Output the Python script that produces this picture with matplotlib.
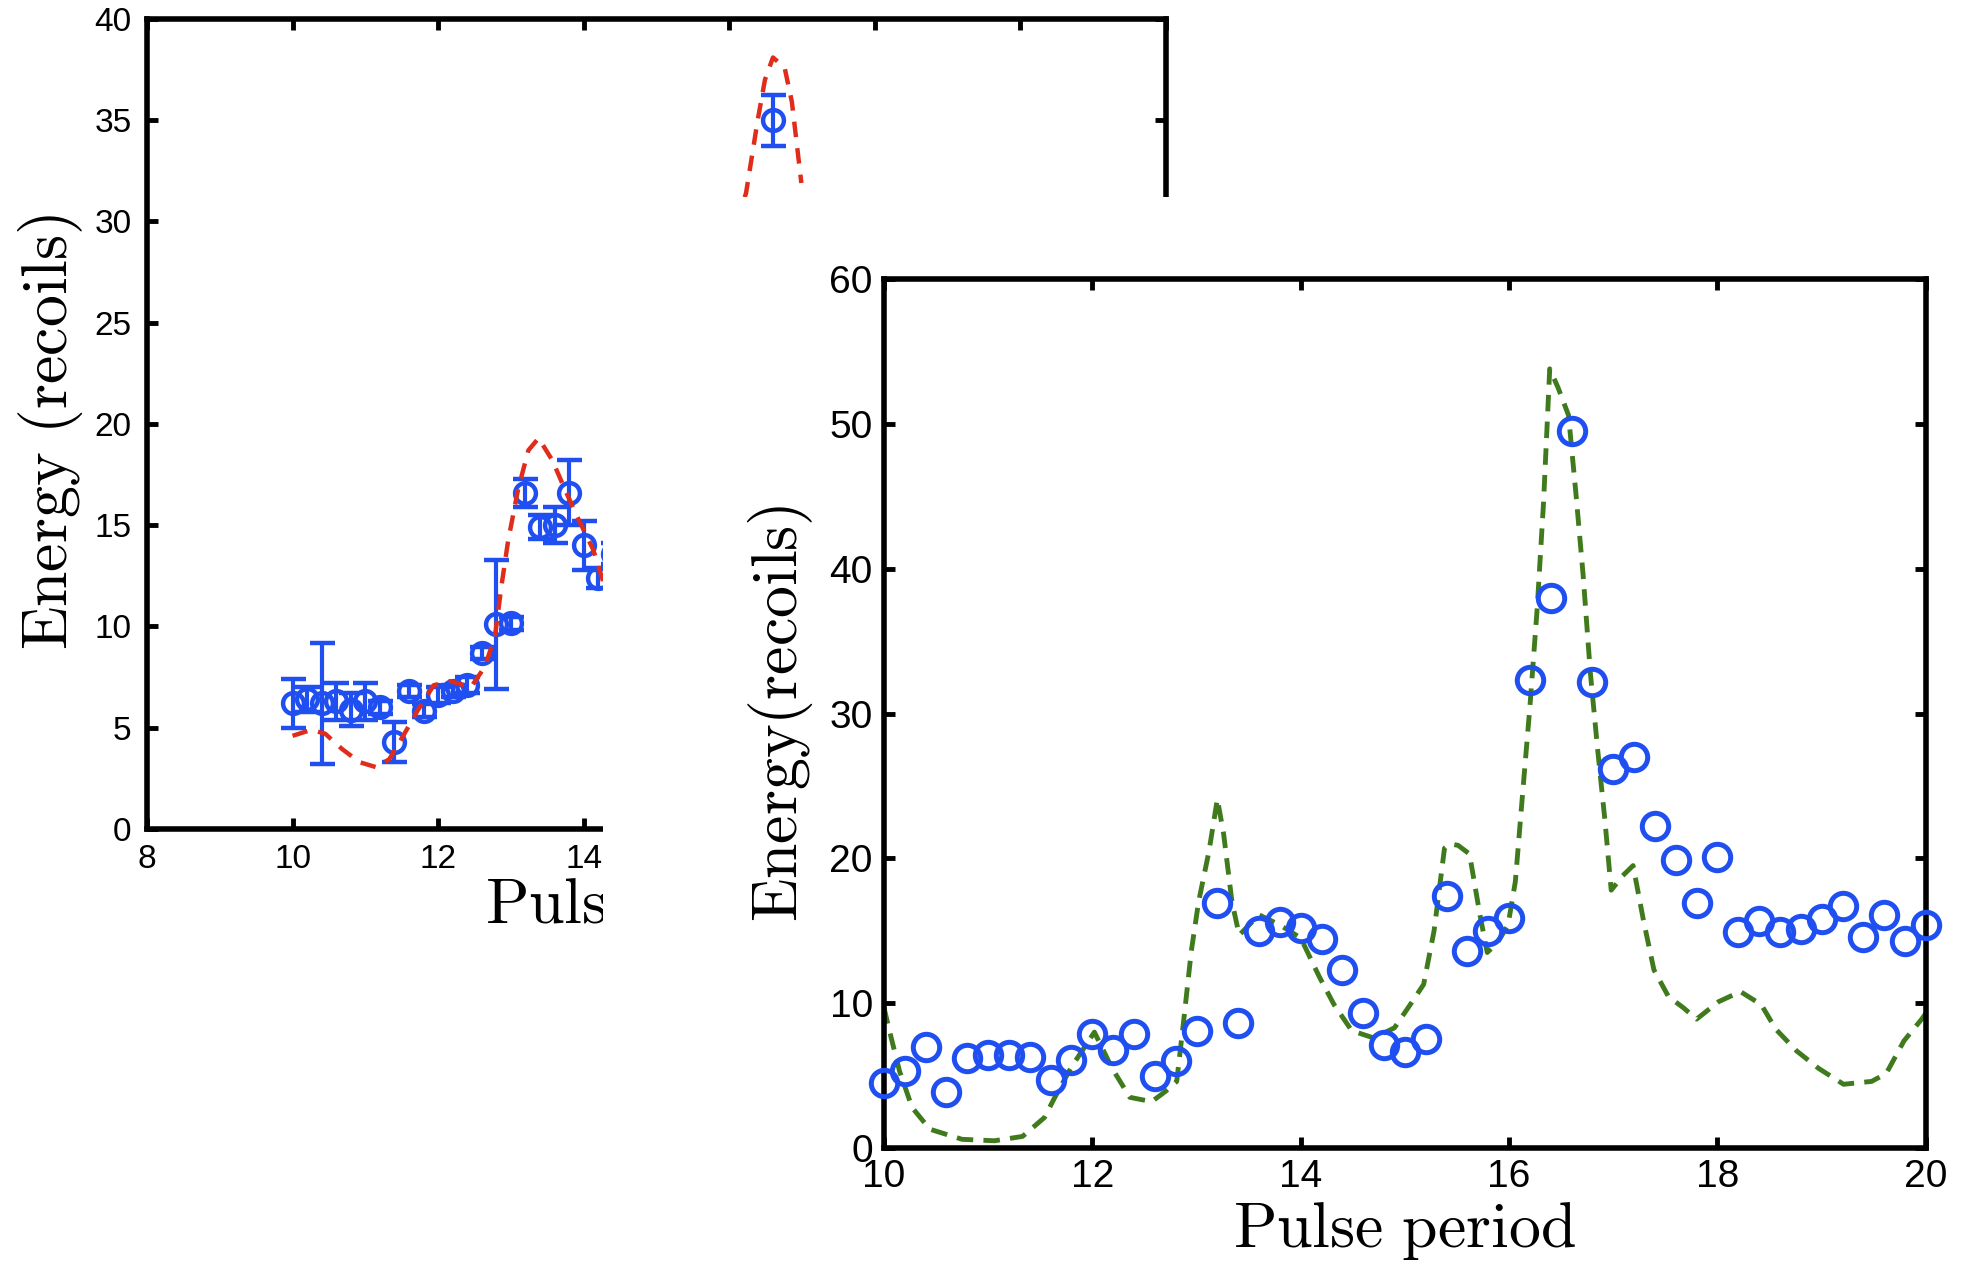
import numpy as np
import matplotlib
matplotlib.use("Agg")
import matplotlib.pyplot as plt
from matplotlib.patches import Rectangle

plt.rcParams['font.family'] = ['Liberation Sans', 'DejaVu Sans']
plt.rcParams['mathtext.fontset'] = 'cm'

# ------------------------------
# back panel: measured energies with error bars + model (red dashed)
meas_x = [10.0, 10.2, 10.4, 10.6, 10.8, 11.0, 11.2, 11.4, 11.6, 11.8, 12.0, 12.2,
          12.4, 12.6, 12.8, 13.0, 13.2, 13.4, 13.6, 13.8, 14.0, 14.2, 14.4, 16.6]
meas_y = [6.2, 6.4, 6.2, 6.3, 5.9, 6.3, 6.0, 4.3, 6.8, 5.85, 6.6, 6.8,
          7.1, 8.7, 10.1, 10.15, 16.6, 14.9, 15.0, 16.6, 14.0, 12.4, 13.6, 35.0]
meas_err = [1.2, 0.6, 3.0, 0.9, 0.8, 0.9, 0.3, 1.0, 0.3, 0.3, 0.4, 0.3,
            0.4, 0.3, 3.2, 0.3, 0.7, 0.6, 0.9, 1.6, 1.2, 0.5, 0.5, 1.25]

model_x = [10.0, 10.26, 10.45, 10.68, 10.92, 11.15, 11.33, 11.52, 11.71, 11.94,
           12.17, 12.45, 12.64, 12.78, 12.87, 12.96, 13.1, 13.24, 13.38, 13.57,
           13.75, 13.94, 14.13, 14.26, 14.38, 16.23, 16.39, 16.49, 16.6, 16.76,
           16.86, 16.99]
model_y = [4.6, 4.9, 4.7, 3.95, 3.3, 3.05, 3.45, 4.6, 5.8, 7.1,
           7.3, 7.0, 8.0, 9.5, 12.0, 14.2, 16.8, 18.7, 19.3, 18.2,
           16.7, 15.2, 13.8, 12.3, 10.8, 31.4, 35.0, 37.0, 38.1, 37.6,
           35.9, 31.9]

# ------------------------------
# front panel: energy vs pulse period, data (circles) + simulation (green dashed)
pulse = [10.0, 10.2, 10.4, 10.6, 10.8, 11.0, 11.2, 11.4, 11.6, 11.8,
         12.0, 12.2, 12.4, 12.6, 12.8, 13.0, 13.2, 13.4, 13.6, 13.8,
         14.0, 14.2, 14.4, 14.6, 14.8, 15.0, 15.2, 15.4, 15.6, 15.8,
         16.0, 16.2, 16.4, 16.6, 16.8, 17.0, 17.2, 17.4, 17.6, 17.8,
         18.0, 18.2, 18.4, 18.6, 18.8, 19.0, 19.2, 19.4, 19.6, 19.8, 20.0]
energy = [4.5, 5.35, 7.0, 3.9, 6.2, 6.4, 6.4, 6.25, 4.7, 6.1,
          7.9, 6.8, 7.9, 4.95, 6.0, 8.05, 16.9, 8.6, 15.0, 15.6,
          15.2, 14.4, 12.3, 9.3, 7.1, 6.6, 7.55, 17.4, 13.6, 15.0,
          15.9, 32.3, 38.0, 49.5, 32.2, 26.2, 27.0, 22.2, 19.9, 16.9,
          20.1, 14.9, 15.7, 14.9, 15.1, 15.8, 16.7, 14.6, 16.1, 14.3, 15.4]

sim_x = [10.0, 10.07, 10.15, 10.27, 10.44, 10.75, 11.06, 11.33, 11.54, 11.64,
         11.8, 12.02, 12.19, 12.36, 12.57, 12.7, 12.81, 12.88, 12.95, 13.02,
         13.12, 13.2, 13.26, 13.34, 13.41, 13.6, 13.8, 14.0, 14.18, 14.32,
         14.49, 14.7, 14.9, 15.07, 15.18, 15.28, 15.38, 15.43, 15.51, 15.62,
         15.72, 15.79, 15.89, 15.99, 16.06, 16.13, 16.2, 16.27, 16.33, 16.39,
         16.47, 16.57, 16.64, 16.71, 16.78, 16.85, 16.92, 16.98, 17.09, 17.19,
         17.29, 17.39, 17.53, 17.67, 17.8, 18.01, 18.22, 18.42, 18.56, 18.76,
         18.97, 19.21, 19.48, 19.62, 19.79, 19.96, 20.0]
sim_y = [9.7, 7.6, 5.3, 2.8, 1.3, 0.6, 0.5, 0.8, 2.1, 3.5,
         5.6, 8.0, 5.5, 3.5, 3.2, 3.9, 4.6, 9.0, 13.6, 17.0,
         20.5, 24.1, 21.7, 17.0, 14.7, 16.1, 15.4, 14.5, 11.8, 9.9,
         8.1, 7.6, 8.3, 10.1, 11.3, 15.0, 20.7, 21.0, 20.9, 20.3,
         16.1, 13.5, 14.2, 15.4, 18.4, 24.5, 30.5, 37.3, 44.5, 53.8,
         52.5, 50.6, 45.3, 39.6, 32.8, 27.5, 22.6, 17.8, 18.8, 19.5,
         15.7, 12.3, 10.45, 9.7, 8.9, 10.1, 10.8, 9.9, 8.2, 6.7,
         5.5, 4.4, 4.6, 5.15, 7.4, 8.9, 9.3]

blue = '#1f4ff0'
red = '#e02d1b'
green = '#3f7a1c'


def style_axes(ax, labelsize, pad):
    for s in ax.spines.values():
        s.set_linewidth(4)
    ax.tick_params(direction='in', top=True, right=True, length=8, width=3.5,
                   labelsize=labelsize, pad=pad)


fig = plt.figure(figsize=(19.70, 12.66), dpi=100)

# ------------------------------
# back panel
ax1 = fig.add_axes([0.0746, 0.3452, 0.5173, 0.6398])
ax1.errorbar(meas_x, meas_y, yerr=meas_err, fmt='o', color=blue, mfc='none',
             ms=15, mew=3.2, elinewidth=3, capsize=9, capthick=3, zorder=2)
ax1.plot(model_x, model_y, color=red, lw=3.2, dashes=(3.5, 2.5), zorder=3)
ax1.set_xlim(8, 22)
ax1.set_ylim(0, 40)
ax1.set_xticks(np.arange(8, 23, 2))
ax1.set_yticks(np.arange(0, 41, 5))
style_axes(ax1, 24, 11)
ax1.set_xlabel(r'$\mathrm{Pulse\ period}$', fontsize=46)
ax1.set_ylabel(r'$\mathrm{Energy\ (recoils)}$', fontsize=46)
ax1.xaxis.set_label_coords(0.5, -0.096)
ax1.xaxis.label.set_va('center')
ax1.yaxis.set_label_coords(-0.095, 0.49)
ax1.yaxis.label.set_va('center')

# white block the front panel sits on
cover = fig.add_axes([0.3061, 0.0, 0.6939, 0.8444])
cover.set_axis_off()
cover.add_patch(Rectangle((0, 0), 1, 1, transform=cover.transAxes,
                          facecolor='white', edgecolor='none'))

# ------------------------------
# front panel
ax2 = fig.add_axes([0.4487, 0.0932, 0.5289, 0.6864])
ax2.plot(sim_x, sim_y, color=green, lw=3.5, dashes=(3.4, 2.1), zorder=2)
ax2.plot(pulse, energy, 'o', color=blue, mfc='none', ms=19, mew=3.6,
         zorder=3, clip_on=False)
ax2.set_xlim(10, 20)
ax2.set_ylim(0, 60)
ax2.set_xticks(np.arange(10, 21, 2))
ax2.set_yticks(np.arange(0, 61, 10))
style_axes(ax2, 28, 8)
ax2.set_xlabel(r'$\mathrm{Pulse\ period}$', fontsize=46)
ax2.set_ylabel(r'$\mathrm{Energy(recoils)}$', fontsize=46)
ax2.xaxis.set_label_coords(0.5, -0.095)
ax2.xaxis.label.set_va('center')
ax2.yaxis.set_label_coords(-0.099, 0.5)
ax2.yaxis.label.set_va('center')

plt.savefig("out.png", dpi=100)
